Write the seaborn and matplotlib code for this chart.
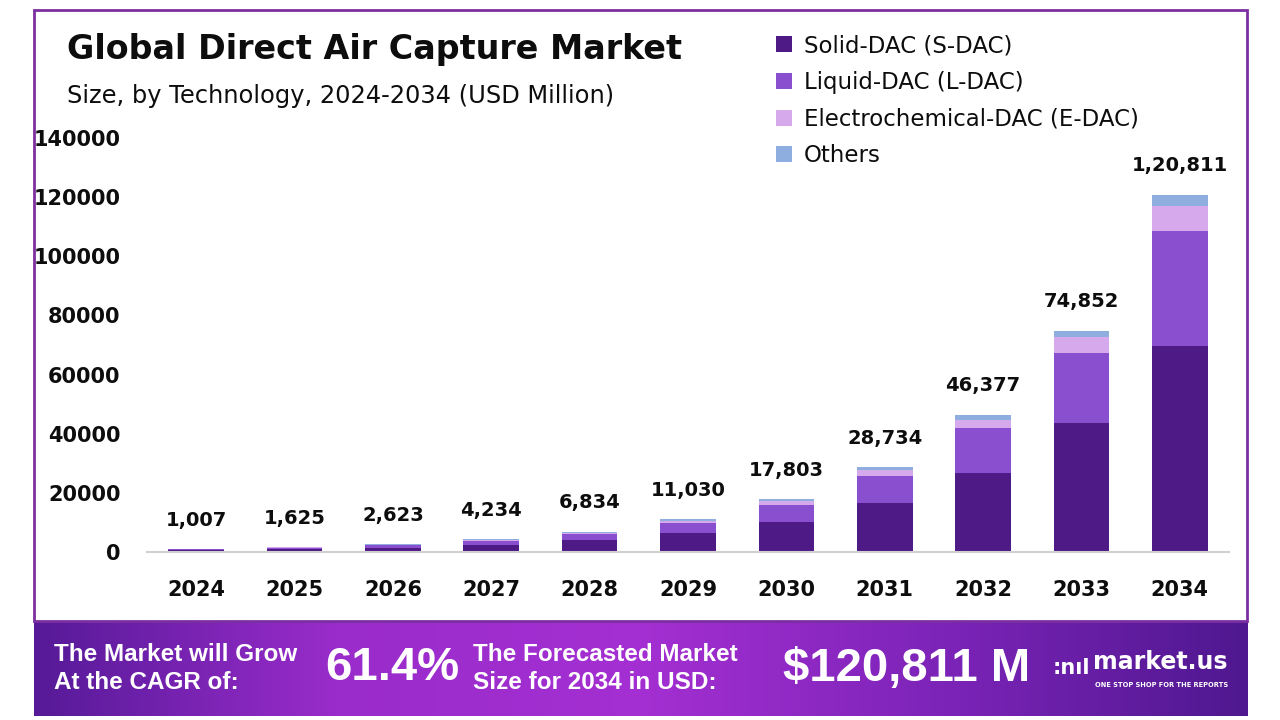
import numpy as np
import pandas as pd
import seaborn as sns
import matplotlib.pyplot as plt
from matplotlib.patches import Patch, Rectangle
from matplotlib.colors import LinearSegmentedColormap

years = ['2024', '2025', '2026', '2027', '2028', '2029', '2030', '2031', '2032', '2033', '2034']
solid_dac = [579, 934, 1508, 2435, 3930, 6340, 10240, 16500, 26700, 43600, 69800]
liquid_dac = [327, 528, 853, 1375, 2220, 3590, 5790, 9350, 15100, 23800, 38700]
echem_dac = [65, 105, 169, 273, 440, 710, 1150, 1850, 2900, 5450, 8400]
others = [36, 58, 93, 151, 244, 390, 623, 1034, 1677, 2002, 3911]
total_labels = ['1,007', '1,625', '2,623', '4,234', '6,834', '11,030', '17,803',
                '28,734', '46,377', '74,852', '1,20,811']
segments = ['Solid-DAC (S-DAC)', 'Liquid-DAC (L-DAC)', 'Electrochemical-DAC (E-DAC)', 'Others']
colors = ['#4e1a86', '#8a4fcf', '#d6a8ec', '#8eaee0']

df = pd.DataFrame({'year': years, segments[0]: solid_dac, segments[1]: liquid_dac,
                   segments[2]: echem_dac, segments[3]: others})

sns.set_style('white')
plt.rcParams['font.family'] = ['DejaVu Sans']

fig = plt.figure(figsize=(12.8, 7.2), dpi=100)
fig.patch.set_facecolor('white')

W, H = 1280, 720
ax = fig.add_axes([147 / W, 1 - 552 / H, (1229 - 147) / W, (552 - 138) / H])

# stacked bars: cumulative heights, tallest drawn first
cum = df[segments].cumsum(axis=1)
for k in range(len(segments) - 1, -1, -1):
    sns.barplot(x=df['year'], y=cum[segments[k]], color=colors[k], ax=ax, width=0.565,
                saturation=1, edgecolor='none', linewidth=0)
totals = cum[segments[-1]].values

ax.set_ylim(0, 140000)
ax.set_xlim(-0.5, 10.5)
ax.set_yticks(range(0, 140001, 20000))
ax.set_xlabel('')
ax.set_ylabel('')
for s in ['top', 'right', 'left']:
    ax.spines[s].set_visible(False)
ax.spines['bottom'].set_color('#d0d0d0')
ax.spines['bottom'].set_linewidth(1.5)
ax.tick_params(axis='both', length=0, labelcolor='#0d0d0d')
ax.tick_params(axis='x', pad=20)
ax.tick_params(axis='y', pad=19)
for lab in ax.get_xticklabels():
    lab.set_fontweight('bold')
    lab.set_fontsize(15)
for lab in ax.get_yticklabels():
    lab.set_fontweight('bold')
    lab.set_fontsize(15)

for i, txt in enumerate(total_labels):
    ax.annotate(txt, (i, totals[i]), xytext=(0, 14), textcoords='offset points',
                ha='center', va='bottom', fontsize=14, fontweight='bold', color='#0d0d0d')

fig.text(67 / W, 1 - 49 / H, 'Global Direct Air Capture Market', fontsize=24,
         fontweight='bold', va='center', ha='left', color='#0d0d0d')
fig.text(67 / W, 1 - 96 / H, 'Size, by Technology, 2024-2034 (USD Million)', fontsize=17.4,
         va='center', ha='left', color='#0d0d0d')

handles = [Patch(facecolor=c, edgecolor='none') for c in colors]
fig.legend(handles, segments, loc='upper left', bbox_to_anchor=(767 / W, 1 - 25 / H),
           frameon=False, fontsize=16.5, handlelength=0.7, handleheight=0.7,
           handletextpad=0.5, labelspacing=0.6, borderaxespad=0, labelcolor='#0d0d0d')

# outer border
fig.patches.append(Rectangle((34 / W, 1 - 621 / H), (1247 - 34) / W, (621 - 10) / H,
                             transform=fig.transFigure, fill=False, edgecolor='#7b2fa0',
                             linewidth=2))

# footer band with gradient
fax = fig.add_axes([34 / W, 1 - 716 / H, (1248 - 34) / W, (716 - 621) / H])
cmap = LinearSegmentedColormap.from_list('band', ['#561a98', '#9a2ccb', '#a42fd2', '#7c24b8', '#4f1890'])
fax.imshow(np.linspace(0, 1, 256).reshape(1, -1), aspect='auto', cmap=cmap, extent=[0, 1, 0, 1])
fax.set_axis_off()
lib = ['Liberation Sans', 'DejaVu Sans']
fax.text(20 / 1214, 0.5, 'The Market will Grow\nAt the CAGR of:', color='white', fontsize=17.5,
         fontweight='bold', va='center', ha='left', linespacing=1.25, family=lib)
fax.text(291 / 1214, 0.5, '61.4%', color='white', fontsize=34, fontweight='bold',
         va='center', ha='left', family=lib)
fax.text(439 / 1214, 0.5, 'The Forecasted Market\nSize for 2034 in USD:', color='white',
         fontsize=17.5, fontweight='bold', va='center', ha='left', linespacing=1.25, family=lib)
fax.text(749 / 1214, 0.5, '$120,811 M', color='white', fontsize=34, fontweight='bold',
         va='center', ha='left', family=lib)
fax.text(1059 / 1214, 0.57, 'market.us', color='white', fontsize=17, fontweight='bold',
         va='center', ha='left')
fax.text(1061 / 1214, 0.33, 'ONE STOP SHOP FOR THE REPORTS', color='white', fontsize=4.8,
         fontweight='bold', va='center', ha='left')
fax.text(1019 / 1214, 0.5, ':nıl', color='white', fontsize=15, fontweight='bold',
         va='center', ha='left')

fig.savefig('out.png', dpi=100)
